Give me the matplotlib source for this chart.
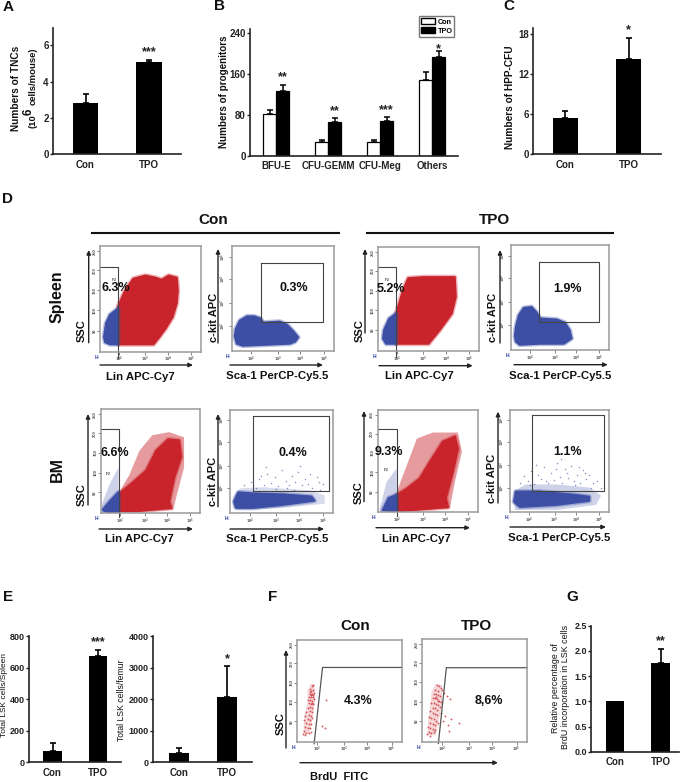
import matplotlib
matplotlib.use('Agg')
import matplotlib.pyplot as plt
from matplotlib.patches import Patch

plt.rcParams['font.family'] = ['Liberation Sans', 'DejaVu Sans']
plt.rcParams['font.weight'] = 'bold'
plt.rcParams['mathtext.fontset'] = 'custom'
plt.rcParams['mathtext.bf'] = 'Liberation Sans:bold'
plt.rcParams['mathtext.rm'] = 'Liberation Sans'

W, H = 685, 782

# bar panels
groups = ['Con', 'TPO']
tnc_vals = [2.8, 5.08]
tnc_errs = [3.3, 5.22]
prog_groups = ['BFU-E', 'CFU-GEMM', 'CFU-Meg', 'Others']
prog_con = [82, 26, 27, 148]
prog_con_err = [90, 31, 31, 163]
prog_tpo = [127, 65, 68, 194]
prog_tpo_err = [139, 73, 75, 204]
prog_stars = ['**', '**', '***', '*']
hpp_vals = [5.4, 14.3]
hpp_errs = [6.5, 17.5]
lsk_spleen = [74, 677]
lsk_spleen_err = [122, 713]
lsk_femur = [307, 2063]
lsk_femur_err = [444, 3047]
brdu_vals = [1.0, 1.76]
brdu_errs = [1.0, 2.04]

# flow plots, outlines in percent of the plot box
spleen_con_red = [(18, 7), (18, 43), (25, 58), (33, 69), (45, 72), (55, 70), (61, 68), (68, 72), (76, 70),
                  (77, 58), (76, 46), (72, 33), (65, 22), (58, 13), (53, 7)]
spleen_con_blue = [(18, 41), (10, 35), (6, 27), (4, 14), (5, 9), (10, 7), (18, 7)]
spleen_con_kit = [(3, 14), (4, 21), (8, 29), (15, 33), (22, 33), (28, 31), (31, 27), (47, 28), (54, 25), (60, 19),
                  (65, 13), (62, 9), (57, 7), (34, 6), (11, 5), (5, 7)]
spleen_tpo_red = [(18, 7), (18, 36), (25, 59), (30, 70), (45, 71), (59, 71), (76, 71), (77, 52), (73, 36), (61, 20), (50, 7)]
spleen_tpo_blue = [(18, 36), (11, 31), (6, 20), (5, 12), (8, 7), (18, 7)]
spleen_tpo_kit = [(4, 13), (5, 22), (8, 33), (13, 40), (21, 41), (26, 36), (30, 30), (47, 29), (55, 26), (60, 19),
                  (62, 11), (54, 6), (30, 6), (9, 5), (5, 8)]
bm_con_red = [(18, 2), (18, 18), (32, 29), (46, 41), (56, 60), (68, 71), (79, 70), (81, 54), (74, 34), (69, 11), (71, 5), (39, 2)]
bm_con_red_halo = [(18, 19), (29, 37), (39, 60), (52, 75), (69, 78), (84, 73), (84, 44), (76, 15), (73, 3), (39, 1)]
bm_con_blue = [(18, 20), (9, 11), (2, 3), (6, 1), (18, 1)]
bm_con_blue_halo = [(18, 44), (9, 28), (1, 8), (1, 1), (18, 1)]
bm_con_kit = [(4, 11), (8, 20), (23, 19), (52, 18), (79, 16), (82, 12), (52, 8), (23, 5), (6, 5)]
bm_con_kit_halo = [(3, 16), (10, 24), (32, 25), (78, 22), (92, 17), (92, 9), (52, 5), (10, 3), (3, 5)]
bm_tpo_red = [(19, 1), (19, 17), (29, 23), (42, 33), (52, 49), (65, 69), (77, 74), (80, 62), (75, 40), (68, 14), (70, 5)]
bm_tpo_red_halo = [(19, 20), (29, 46), (39, 72), (55, 78), (80, 78), (84, 59), (77, 30), (72, 4), (29, 1)]
bm_tpo_blue = [(19, 17), (11, 14), (5, 2), (19, 1)]
bm_tpo_blue_halo = [(19, 43), (9, 30), (2, 4), (2, 1), (19, 1)]
bm_tpo_kit = [(4, 10), (6, 20), (30, 20), (64, 17), (80, 15), (80, 11), (47, 7), (10, 5)]
bm_tpo_kit_halo = [(3, 20), (16, 27), (47, 27), (80, 24), (92, 16), (87, 7), (47, 2), (5, 2)]

# sparse c-kit events above the main population
bm_con_kit_x = [14, 20, 25, 28, 33, 36, 40, 44, 47, 50, 54, 57, 60, 63, 66, 70, 73, 76, 80, 84, 87, 90, 35, 45, 55, 68, 78, 86, 30, 62]
bm_con_kit_y = [27, 30, 24, 33, 27, 38, 29, 35, 26, 42, 31, 27, 36, 30, 40, 27, 33, 28, 24, 35, 22, 28, 45, 23, 24, 46, 38, 30, 36, 22]
bm_tpo_kit_x = [10, 14, 18, 21, 24, 28, 31, 34, 38, 41, 44, 47, 50, 53, 56, 59, 62, 65, 68, 71, 74, 77, 80, 84, 88, 92, 26, 36, 46, 58, 70, 82, 20, 52, 66, 76]
bm_tpo_kit_y = [28, 35, 30, 40, 27, 36, 32, 44, 28, 38, 31, 48, 34, 28, 42, 33, 45, 30, 36, 28, 41, 32, 36, 28, 30, 24, 46, 30, 42, 38, 44, 24, 26, 52, 26, 38]

# BrdU events, percent of the plot box
brdu_con_x = [12, 14, 15, 13, 15, 16, 12, 14, 11, 13, 15, 10, 12, 14, 16, 11, 13, 15, 12, 14, 10, 12, 14, 9,
              11, 13, 8, 10, 12, 14, 7, 9, 11, 13, 8, 10, 12, 7, 9, 11, 13, 6, 8, 24, 27, 28, 13, 15, 14, 12]
brdu_con_y = [52, 55, 56, 50, 51, 48, 47, 47, 44, 44, 44, 41, 41, 40, 42, 38, 37, 37, 34, 33, 33, 30, 29, 29,
              26, 25, 25, 22, 21, 23, 21, 18, 17, 17, 14, 13, 13, 11, 9, 9, 10, 8, 7, 15, 13, 41, 46, 46, 38, 49]
brdu_con_cloud = [(10, 50), (13, 57), (17, 56), (17, 38), (14, 18), (12, 8), (6, 7), (7, 25), (10, 38)]
brdu_tpo_x = [14, 16, 18, 12, 15, 19, 21, 11, 13, 15, 17, 10, 12, 14, 16, 18, 9, 11, 13, 15, 17, 10, 12, 14,
              8, 10, 12, 14, 7, 9, 11, 13, 8, 10, 12, 15, 6, 8, 10, 12, 7, 9, 11, 5, 8, 24, 27, 28, 22, 25, 35, 18, 20, 26, 13, 15]
brdu_tpo_y = [55, 54, 52, 50, 49, 50, 47, 46, 46, 45, 44, 42, 42, 41, 40, 39, 38, 38, 37, 36, 34, 33, 33, 31,
              30, 28, 27, 26, 24, 23, 22, 20, 18, 17, 16, 18, 14, 13, 12, 11, 9, 8, 9, 7, 5, 44, 41, 22, 25, 16, 18, 28, 20, 10, 43, 40]
brdu_tpo_cloud = [(9, 48), (13, 56), (19, 55), (19, 36), (16, 20), (13, 6), (5, 6), (6, 22), (8, 36)]

flow_x_ticks = [19, 45, 67, 90]
flow_x_labels = ['$10^2$', '$10^3$', '$10^4$', '$10^5$']
ssc_ticks = [20, 39, 58, 77, 95]
ssc_labels = ['50', '100', '150', '200', '250']
kit_ticks = [24, 46, 69, 90]
kit_labels = ['$10^2$', '$10^3$', '$10^4$', '$10^5$']

RED = '#c9242b'
BLUE = '#3c4fa5'

fig = plt.figure(figsize=(W / 100, H / 100), dpi=100, facecolor='white')
over = fig.add_axes([0, 0, 1, 1], zorder=5)
over.set_xlim(0, W)
over.set_ylim(H, 0)
over.axis('off')


def px_axes(left, top, right, bottom):
    return fig.add_axes([left / W, 1 - bottom / H, (right - left) / W, (bottom - top) / H])


def label(x, y, s, size=8, rot=0, weight='bold'):
    over.text(x, y, s, fontsize=size, rotation=rot, ha='center', va='center', weight=weight, color='#111111')


def arrow(x0, y0, x1, y1):
    over.annotate('', xy=(x1, y1), xytext=(x0, y0),
                  arrowprops=dict(arrowstyle='-|>,head_width=0.12,head_length=0.25', color='#222222', lw=1, shrinkA=0, shrinkB=0))


def star(ax, x, y, s, off=1.0):
    ax.annotate(s, (x, y), xytext=(0, off), textcoords='offset points', ha='center', va='bottom',
                fontsize=9, color='#222222')


def style_bar_axes(ax, yticks, ticklabels=None, size=7):
    for s in ['top', 'right']:
        ax.spines[s].set_visible(False)
    for s in ['left', 'bottom']:
        ax.spines[s].set_linewidth(1.2)
        ax.spines[s].set_color('#222222')
    ax.set_yticks(yticks)
    if ticklabels:
        ax.set_yticklabels(ticklabels)
    ax.tick_params(axis='y', length=2, width=1, pad=1, labelsize=size, colors='#222222')
    ax.tick_params(axis='x', length=0, pad=4, labelsize=7, colors='#222222')


def two_bars(box, ymax, yticks, vals, errs, stars, xspan, ticklabels=None, size=7):
    # xspan is the pixel centre of the two bars
    ax = px_axes(*box)
    unit = xspan[1] - xspan[0]
    ax.set_xlim((box[0] - xspan[0]) / unit, 1 + (box[2] - xspan[1]) / unit)
    ax.set_ylim(0, ymax)
    ax.bar([0, 1], vals, width=0.4, color='black')
    for i in range(2):
        if errs[i] > vals[i]:
            ax.errorbar([i], [vals[i]], yerr=[[0], [errs[i] - vals[i]]], fmt='none',
                        ecolor='black', elinewidth=1.2, capsize=2, capthick=1.2)
        if stars[i]:
            star(ax, i, errs[i], stars[i])
    ax.set_xticks([0, 1])
    ax.set_xticklabels(groups)
    style_bar_axes(ax, yticks, ticklabels, size)
    return ax


def flow(box, polys, gate, pct, pct_xy, ylab, xlab, yticks, yticklabels, p_xy=None, dots=None):
    ax = px_axes(*box)
    ax.set_xlim(0, 100)
    ax.set_ylim(0, 100)
    for pts, col, al in polys:
        if al < 1:
            ax.fill(*zip(*pts), color=col, alpha=al, lw=0)
        else:
            ax.fill(*zip(*pts), color=col, alpha=0.35, lw=3.5, joinstyle='round')
            ax.fill(*zip(*pts), color=col, lw=1.5, joinstyle='round')
    if dots:
        ax.scatter(dots[0], dots[1], s=1.2, color=BLUE, alpha=0.6, lw=0)
    ax.plot(*zip(*gate), color='#444444', lw=0.8, clip_on=False)
    for s in ax.spines.values():
        s.set_color('#9a9a9a')
        s.set_linewidth(1.1)
    ax.set_xticks(flow_x_ticks)
    ax.set_xticklabels(flow_x_labels)
    ax.set_yticks(yticks)
    ax.set_yticklabels(yticklabels, rotation=90, va='center')
    ax.tick_params(length=2, width=0.5, pad=0.5, labelsize=3, colors='#555555')
    ax.text(-2, -3, 'H', fontsize=3.5, color='#2a3a9a', ha='right', va='top')
    if p_xy:
        ax.text(p_xy[0], p_xy[1], 'P2', fontsize=3, color='#555555', ha='center')
    label(pct_xy[0], pct_xy[1], pct, 9)
    arrow(*ylab[:4])
    label(ylab[4], ylab[5], ylab[6], 8, 90)
    arrow(*xlab[:4])
    label(xlab[4], xlab[5], xlab[6], 8.2)


# A
two_bars((53, 28, 181, 154), 6.96, [0, 2, 4, 6], tnc_vals, tnc_errs, ['', '***'], (85.5, 149))
label(8, 7, 'A', 11)
label(16, 88, 'Numbers of TNCs', 7.3, 90)
label(33, 121, '(10', 6.8, 90)
label(29, 111.5, '6', 8.5, 90)
label(33, 76, 'cells/mouse)', 6.8, 90)

# B
ax = px_axes(250, 29, 458, 155.7)
ax.set_xlim(-0.5, 3.5)
ax.set_ylim(0, 248)
pos = list(range(len(prog_groups)))
ax.bar([p - 0.125 for p in pos], prog_con, width=0.25, color='white', edgecolor='black', lw=0.9)
ax.bar([p + 0.125 for p in pos], prog_tpo, width=0.25, color='black', edgecolor='black', lw=0.9)
ax.errorbar([p - 0.125 for p in pos], prog_con, yerr=[[0] * 4, [e - v for e, v in zip(prog_con_err, prog_con)]],
            fmt='none', ecolor='black', elinewidth=1.1, capsize=2, capthick=1.1)
ax.errorbar([p + 0.125 for p in pos], prog_tpo, yerr=[[0] * 4, [e - v for e, v in zip(prog_tpo_err, prog_tpo)]],
            fmt='none', ecolor='black', elinewidth=1.1, capsize=2, capthick=1.1)
for p, st, e in zip(pos, prog_stars, prog_tpo_err):
    star(ax, p + 0.125, e, st, -2.5 if st == '*' else 1.0)
ax.set_xticks(pos)
ax.set_xticklabels(prog_groups)
style_bar_axes(ax, [0, 80, 160, 240])
ax.legend(handles=[Patch(facecolor='white', edgecolor='black', label='Con'),
                   Patch(facecolor='black', edgecolor='black', label='TPO')],
          loc='upper left', bbox_to_anchor=(419 / W, 1 - 16.5 / H), bbox_transform=fig.transFigure,
          fontsize=5.2, fancybox=False, edgecolor='#777777', framealpha=1, borderpad=0.25, labelspacing=0.2,
          handlelength=2.0, handleheight=0.9, handletextpad=0.3, borderaxespad=0)
label(220, 6, 'B', 11)
label(224, 92, 'Numbers of progenitors', 7.1, 90)

# C
two_bars((533, 28, 660.7, 154), 18.95, [0, 6, 12, 18], hpp_vals, hpp_errs, ['', '*'], (565.3, 628.8))
label(509, 6, 'C', 11)
label(510, 97, 'Numbers of HPP-CFU', 7.3, 90)

# D
label(8, 199, 'D', 11)
label(213, 220, 'Con', 11)
over.plot([91.7, 339], [232.7, 232.7], color='#111111', lw=1.5)
label(495, 220, 'TPO', 11)
over.plot([366.7, 613], [232.7, 232.7], color='#111111', lw=1.5)
label(57, 297, 'Spleen', 11.5, 90)
label(57, 469, 'BM', 11.5, 90)

flow((100, 246, 201, 351.7), [(spleen_con_red, RED, 1), (spleen_con_blue, BLUE, 1)],
     [(0, 80), (17.5, 80), (17.5, -6)], '6.3%', (115.7, 288),
     (88.7, 342.7, 88.7, 250, 81.7, 331, 'SSC'), (100, 365, 193, 365, 140, 376.7, 'Lin APC-Cy7'), ssc_ticks, ssc_labels, (14, 67))
flow((231.7, 246, 334, 351), [(spleen_con_kit, BLUE, 1)],
     [(28.6, 83.6), (89.6, 83.6), (89.6, 27.8), (28.6, 27.8), (28.6, 83.6)], '0.3%', (294, 288),
     (218, 343, 218, 249, 214, 317, 'c-kit APC'), (230, 365, 323, 365, 276.7, 375.7, 'Sca-1 PerCP-Cy5.5'), kit_ticks, kit_labels)
flow((378, 247, 479, 351), [(spleen_tpo_red, RED, 1), (spleen_tpo_blue, BLUE, 1)],
     [(0, 80.7), (18, 80.7), (18, -6)], '5.2%', (390.7, 288.7),
     (365, 333, 365, 249, 360, 331, 'SSC'), (379, 365.7, 472.7, 365.7, 419, 375.7, 'Lin APC-Cy7'), ssc_ticks, ssc_labels, (9, 67))
flow((511, 245, 608.7, 350), [(spleen_tpo_kit, BLUE, 1)],
     [(29, 83.4), (90, 83.4), (90, 26.4), (29, 26.4), (29, 83.4)], '1.9%', (568, 288.7),
     (500, 343, 500, 250, 493.5, 317, 'c-kit APC'), (514, 364.7, 607.7, 364.7, 560, 375.7, 'Sca-1 PerCP-Cy5.5'), kit_ticks, kit_labels)

flow((100.7, 409.3, 200, 513), [(bm_con_red_halo, RED, 0.45), (bm_con_red, RED, 1), (bm_con_blue_halo, BLUE, 0.25), (bm_con_blue, BLUE, 1)],
     [(0, 81), (18.4, 81), (18.4, -4)], '6.6%', (115, 452.7),
     (88, 505, 88, 414, 81.7, 495, 'SSC'), (99, 529, 193, 529, 139.3, 539, 'Lin APC-Cy7'), ssc_ticks, ssc_labels, (8, 37))
flow((230, 410, 333, 513), [(bm_con_kit_halo, BLUE, 0.2), (bm_con_kit, BLUE, 1)],
     [(22, 94.5), (96, 94.5), (96, 21.6), (22, 21.6), (22, 94.5)], '0.4%', (293, 452.7),
     (218, 506.7, 218, 414, 213.3, 481.7, 'c-kit APC'), (230, 529, 324, 529, 276.7, 539, 'Sca-1 PerCP-Cy5.5'), kit_ticks, kit_labels,
     dots=(bm_con_kit_x, bm_con_kit_y))
flow((377.7, 410, 478, 512.3), [(bm_tpo_red_halo, RED, 0.45), (bm_tpo_red, RED, 1), (bm_tpo_blue_halo, BLUE, 0.25), (bm_tpo_blue, BLUE, 1)],
     [(0, 81), (19, 81), (19, -4)], '9.3%', (389.3, 452.3),
     (364, 501.7, 364, 411, 358.7, 492.3, 'SSC'), (376, 527.7, 470, 527.7, 416, 538.7, 'Lin APC-Cy7'), ssc_ticks, ssc_labels, (9, 40))
flow((510, 410, 609, 512), [(bm_tpo_kit_halo, BLUE, 0.25), (bm_tpo_kit, BLUE, 1)],
     [(22, 95), (95, 95), (95, 20.5), (22, 20.5), (22, 95)], '1.1%', (568, 452.3),
     (498, 503, 498, 411.7, 492, 478, 'c-kit APC'), (510, 527, 606, 527, 559, 537.7, 'Sca-1 PerCP-Cy5.5'), kit_ticks, kit_labels,
     dots=(bm_tpo_kit_x, bm_tpo_kit_y))

# E
label(8, 597, 'E', 11)
two_bars((29, 636.3, 120.7, 762.3), 800, [0, 200, 400, 600, 800], lsk_spleen, lsk_spleen_err, ['', '***'], (52.5, 98), size=6.5)
label(4.5, 695, 'Total LSK cells/Spleen', 6, 90, 'normal')
two_bars((153, 636.3, 251.7, 762.3), 4000, [0, 1000, 2000, 3000, 4000], lsk_femur, lsk_femur_err, ['', '*'], (179, 227), size=6.5)
label(122, 700, 'Total LSK cells/femur', 6.2, 90, 'normal')

# F
label(273, 597, 'F', 11)
for box, xs, ys, cloud, pct, px, title, tx, gate in [
        ((297, 640, 402, 741.7), brdu_con_x, brdu_con_y, brdu_con_cloud, '4.3%', 357.7, 'Con', 355, [(16.3, -2), (24.3, 73), (100, 73)]),
        ((422, 639, 527, 741.5), brdu_tpo_x, brdu_tpo_y, brdu_tpo_cloud, '8,6%', 489, 'TPO', 476.7, [(15.6, -2), (23.2, 72), (100, 72)])]:
    ax = px_axes(*box)
    ax.set_xlim(0, 100)
    ax.set_ylim(0, 100)
    ax.fill(*zip(*cloud), color=RED, alpha=0.18, lw=0)
    ax.scatter(xs, ys, s=1.8, color=RED, alpha=0.75, lw=0)
    ax.plot(*zip(*gate), color='#555555', lw=0.9, clip_on=False)
    for s in ax.spines.values():
        s.set_color('#9a9a9a')
        s.set_linewidth(1.1)
    ax.set_xticks(flow_x_ticks)
    ax.set_xticklabels(flow_x_labels)
    ax.set_yticks(ssc_ticks)
    ax.set_yticklabels(ssc_labels, rotation=90, va='center')
    ax.tick_params(length=2, width=0.5, pad=0.5, labelsize=3, colors='#555555')
    ax.text(-2, -3, 'H', fontsize=3.5, color='#2a3a9a', ha='right', va='top')
    label(px, 701, pct, 9)
    label(tx, 626.5, title, 11)
arrow(286, 748, 286, 650)
label(281, 724, 'SSC', 8, 90)
arrow(300, 762.7, 498, 762.7)
label(339, 777, 'BrdU  FITC', 8)

# G
label(572, 597, 'G', 11)
two_bars((591, 625.7, 679, 751.7), 2.5, [0, 0.5, 1.0, 1.5, 2.0, 2.5], brdu_vals, brdu_errs, ['', '**'], (615.3, 660.5),
         ['0.0', '0.5', '1.0', '1.5', '2.0', '2.5'], size=6.5)
label(556, 688, 'Relative percentage of', 6.4, 90, 'normal')
label(566, 687, 'BrdU incorporation in LSK cells', 6.4, 90, 'normal')

fig.savefig('out.png', dpi=100)
